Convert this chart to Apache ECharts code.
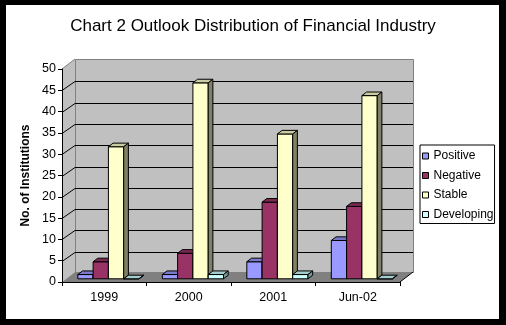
<!DOCTYPE html>
<html>
<head>
<meta charset="utf-8">
<script src="https://cdn.jsdelivr.net/npm/echarts@6/dist/echarts.min.js"></script>
<style>
  html, body { margin: 0; padding: 0; background: #000; }
  #chart { width: 506px; height: 325px; }
</style>
</head>
<body>
<div id="chart"></div>
<script>
// Outlook counts per year
const categories = ['1999', '2000', '2001', 'Jun-02'];
const positive   = [1, 1, 4, 9];
const negative   = [4, 6, 18, 17];
const stable     = [31, 46, 34, 43];
const developing = [0, 1, 1, 0];
const seriesNames = ['Positive', 'Negative', 'Stable', 'Developing'];
const gridValues = [5, 10, 15, 20, 25, 30, 35, 40, 45];

const FONT = "'Liberation Sans', Arial, sans-serif";

// 3D look: depth offset of the back wall relative to the front plane
const DX = 13, DY = -10;
// bars occupy this slice of the depth
const F0 = 0.32, F1 = 0.68;
// single bar width as a fraction of a category band
const BAR_RATIO = 0.181;

// front / top / side shades for each series
const shades = [
  { front: '#9999FF', top: '#7A7ACC', side: '#5C5C99' },
  { front: '#993366', top: '#7A2952', side: '#5C1F3D' },
  { front: '#FFFFCC', top: '#CCCCA3', side: '#808066' },
  { front: '#CCFFFF', top: '#A3CCCC', side: '#7A9999' }
];

function renderWalls(params, api) {
  const cs = params.coordSys;
  const x0 = cs.x, x1 = cs.x + cs.width;
  const yTop = cs.y, yBot = cs.y + cs.height;
  const children = [];
  // left side wall
  children.push({
    type: 'polygon',
    shape: { points: [[x0, yBot], [x0 + DX, yBot + DY], [x0 + DX, yTop + DY], [x0, yTop]] },
    style: { fill: '#C0C0C0', stroke: null }
  });
  // back wall
  children.push({
    type: 'rect',
    shape: { x: x0 + DX + 0.5, y: yTop + DY + 0.5, width: cs.width, height: cs.height },
    style: { fill: '#C0C0C0', stroke: '#808080', lineWidth: 1 }
  });
  // floor
  children.push({
    type: 'polygon',
    shape: { points: [[x0, yBot], [x1, yBot], [x1 + DX, yBot + DY], [x0 + DX, yBot + DY]] },
    style: { fill: '#808080', stroke: null }
  });
  children.push({
    type: 'line',
    shape: { x1: x1, y1: yBot, x2: x1 + DX, y2: yBot + DY },
    style: { stroke: '#000', lineWidth: 1 }
  });
  // top edge of left wall
  children.push({
    type: 'line',
    shape: { x1: x0, y1: yTop, x2: x0 + DX, y2: yTop + DY },
    style: { stroke: '#808080', lineWidth: 1 }
  });
  // gridlines on back wall and side wall
  gridValues.forEach(function (v) {
    const y = Math.round(api.coord([0, v])[1]) + 0.5;
    const yb = Math.round(y + DY) + 0.5;
    children.push({
      type: 'line',
      shape: { x1: x0 + DX, y1: yb, x2: x1 + DX, y2: yb },
      style: { stroke: '#000', lineWidth: 1 }
    });
    children.push({
      type: 'line',
      shape: { x1: x0, y1: y, x2: x0 + DX, y2: yb },
      style: { stroke: '#000', lineWidth: 1 }
    });
  });
  return { type: 'group', children: children };
}

function makeBarRenderer(idx) {
  const c = shades[idx];
  return function (params, api) {
    const cat = api.value(0), v = api.value(1);
    const base = api.coord([cat, 0]);
    const topP = api.coord([cat, v]);
    const bw = api.size([1, 0])[0] * BAR_RATIO;
    const xa = base[0] - 2 * bw + idx * bw + F0 * DX;
    const xb = xa + bw;
    const yb = base[1] + F0 * DY;
    const yt = topP[1] + F0 * DY;
    const ddx = (F1 - F0) * DX, ddy = (F1 - F0) * DY;
    const edge = { stroke: '#000', lineWidth: 1, lineJoin: 'miter' };
    return {
      type: 'group',
      children: [
        {
          type: 'polygon',
          shape: { points: [[xa, yb], [xb, yb], [xb, yt], [xa, yt]] },
          style: Object.assign({ fill: c.front }, edge)
        },
        {
          type: 'polygon',
          shape: { points: [[xa, yt], [xb, yt], [xb + ddx, yt + ddy], [xa + ddx, yt + ddy]] },
          style: Object.assign({ fill: c.top }, edge)
        },
        {
          type: 'polygon',
          shape: { points: [[xb, yt], [xb + ddx, yt + ddy], [xb + ddx, yb + ddy], [xb, yb]] },
          style: Object.assign({ fill: c.side }, edge)
        }
      ]
    };
  };
}

const valueSets = [positive, negative, stable, developing];

const barSeries = valueSets.map(function (vals, i) {
  return {
    name: seriesNames[i],
    type: 'custom',
    z: 3,
    renderItem: makeBarRenderer(i),
    itemStyle: { color: shades[i].front, borderColor: '#000', borderWidth: 1 },
    encode: { x: 0, y: 1 },
    data: vals.map(function (v, k) { return [k, v]; })
  };
});

const chart = echarts.init(document.getElementById('chart'), null, { renderer: 'canvas' });

chart.setOption({
  animation: false,
  backgroundColor: '#000',
  graphic: [{
    type: 'rect',
    z: -10,
    shape: { x: 6, y: 5, width: 493, height: 314 },
    style: { fill: '#fff' }
  }],
  title: {
    text: 'Chart 2 Outlook Distribution of Financial Industry',
    left: 'center',
    top: 18,
    padding: 0,
    textStyle: { fontFamily: FONT, fontSize: 17, fontWeight: 'normal', color: '#000' }
  },
  legend: {
    data: seriesNames,
    orient: 'vertical',
    left: 420,
    top: 145,
    padding: [5, 1, 3, 2],
    itemGap: 7.5,
    itemWidth: 6,
    itemHeight: 6,
    icon: 'rect',
    selectedMode: false,
    backgroundColor: '#fff',
    borderColor: '#000',
    borderWidth: 1,
    itemStyle: { borderColor: '#000', borderWidth: 1 },
    textStyle: { fontFamily: FONT, fontSize: 12, color: '#000' }
  },
  grid: { left: 62, top: 69, width: 338, height: 213, containLabel: false },
  xAxis: {
    type: 'category',
    data: categories,
    z: 5,
    axisLine: { lineStyle: { color: '#000', width: 1 } },
    axisTick: { show: true, length: 4, lineStyle: { color: '#000' } },
    axisLabel: { margin: 9, color: '#000', fontFamily: FONT, fontSize: 12.5 },
    splitLine: { show: false }
  },
  yAxis: {
    type: 'value',
    min: 0,
    max: 50,
    interval: 5,
    z: 5,
    name: 'No. of Institutions',
    nameLocation: 'middle',
    nameGap: 27,
    nameTextStyle: { fontFamily: FONT, fontSize: 12, fontWeight: 'bold', color: '#000' },
    axisLine: { show: true, lineStyle: { color: '#000', width: 1 } },
    axisTick: { show: true, length: 4, lineStyle: { color: '#000' } },
    axisLabel: { margin: 6, color: '#000', fontFamily: FONT, fontSize: 12.5 },
    splitLine: { show: false }
  },
  series: [{
    type: 'custom',
    name: 'walls',
    z: 1,
    silent: true,
    renderItem: renderWalls,
    encode: { x: 0, y: 1 },
    data: [[0, 0]]
  }].concat(barSeries)
});
</script>
</body>
</html>
